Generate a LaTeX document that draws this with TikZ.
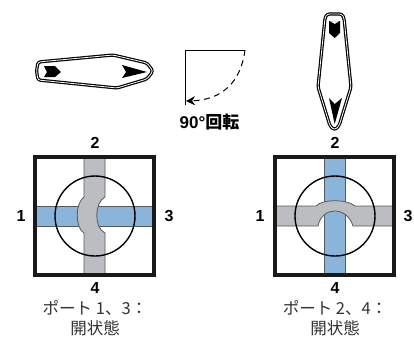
\documentclass[tikz,border=0pt]{standalone}
\usepackage{fontspec}
\setmainfont{Liberation Sans}
\newfontfamily\cjk{Noto Sans CJK JP}
\usepackage{tikz}
\usetikzlibrary{arrows.meta}
\definecolor{portblue}{HTML}{8AB4DA}
\definecolor{portgray}{HTML}{BBBDC0}
\definecolor{edgegray}{HTML}{555A5E}
\begin{document}
\begin{tikzpicture}[x=1pt, y=-1pt, >=Stealth,
		portnum/.style={font=\fontsize{16}{16}\selectfont\bfseries, inner sep=0pt},
		caption/.style={font=\fontsize{16.5}{16.5}\selectfont\cjk, text=black!80, inner sep=0pt},
		valve/.style={draw=black, line width=1.2pt, double=white, double distance=0.8pt, line join=round, rounded corners=2.5pt},
		bar/.style={draw=edgegray, line width=0.8pt},
		housing/.style={draw=black!90, line width=3.2pt},
		rotor/.style={draw=black, line width=1.4pt}]
	\useasboundingbox (0,0) rectangle (414,338);

	% valve handles
	\draw[valve] (38,62) -- (113,55) -- (147,63) -- (153,71) -- (147,79) -- (117,88) -- (38,80) -- (36.5,71) -- cycle;
	\fill (44,66) -- (55,66) -- (61,72) -- (55,77) -- (44,77) -- (47,72) -- cycle;
	\fill (122,65) -- (147,72) -- (122,78) -- (126,72) -- cycle;
	\draw[valve] (327,14) -- (342,14) -- (344,18) -- (351,87) -- (339,126) -- (334.5,130) -- (330,126) -- (318,87) -- (325,18) -- cycle;
	\fill (329,21) -- (340,21) -- (340,33) -- (334.7,38) -- (329,33) -- (329,21) -- (334.7,24) -- (340,21) -- cycle;
	\fill (329,98) -- (334.7,104) -- (342,98) -- (334.7,124) -- cycle;

	% rotation mark
	\draw[line width=1pt] (185,105) -- (185,50) -- (245,50);
	\draw[-{Stealth[length=9pt, width=9pt]}, dash pattern=on 6pt off 4.5pt, line width=1pt] (245,50) .. controls (241,82) and (222,100) .. (186,101);
	\node[font=\fontsize{17}{17}\selectfont\bfseries, inner sep=0pt] (turn) at (209.5,122) {90°{\cjk 回転}};

	% left port block
	\draw[bar, fill=portblue] (36,206) rectangle (153,226);
	\draw[bar, fill=portgray] (84,158) -- (84,197) .. controls (75,203) and (75,228) .. (84,233) -- (84,274) -- (105,274) -- (105,233) .. controls (94,228) and (94,203) .. (105,197) -- (105,158) -- cycle;
	\draw[rotor] (95,216) circle (40);
	\draw[housing] (35,157) rectangle (154,275);
	\node[portnum] (l2) at (95,143) {2};
	\node[portnum] (l1) at (21,216) {1};
	\node[portnum] (l3) at (169,216) {3};
	\node[portnum] (l4) at (95,288) {4};
	\node[caption] (lopen) at (95,308) {ポート 1、3：};
	\node[caption] (lstate) at (95,328) {開状態};

	% right port block
	\draw[bar, fill=portblue] (324,158) rectangle (345,274);
	\draw[bar, fill=portgray] (276,206) -- (316,206) .. controls (322,199) and (347,199) .. (355,206) -- (393,206) -- (393,226) -- (353,226) .. controls (347,206) and (322,206) .. (318,226) -- (276,226) -- cycle;
	\draw[rotor] (335,216) circle (40);
	\draw[housing] (275,157) rectangle (394,275);
	\node[portnum] (r2) at (335,143) {2};
	\node[portnum] (r1) at (260,216) {1};
	\node[portnum] (r3) at (408,216) {3};
	\node[portnum] (r4) at (335,288) {4};
	\node[caption] (ropen) at (335,308) {ポート 2、4：};
	\node[caption] (rstate) at (335,328) {開状態};
\end{tikzpicture}
\end{document}
